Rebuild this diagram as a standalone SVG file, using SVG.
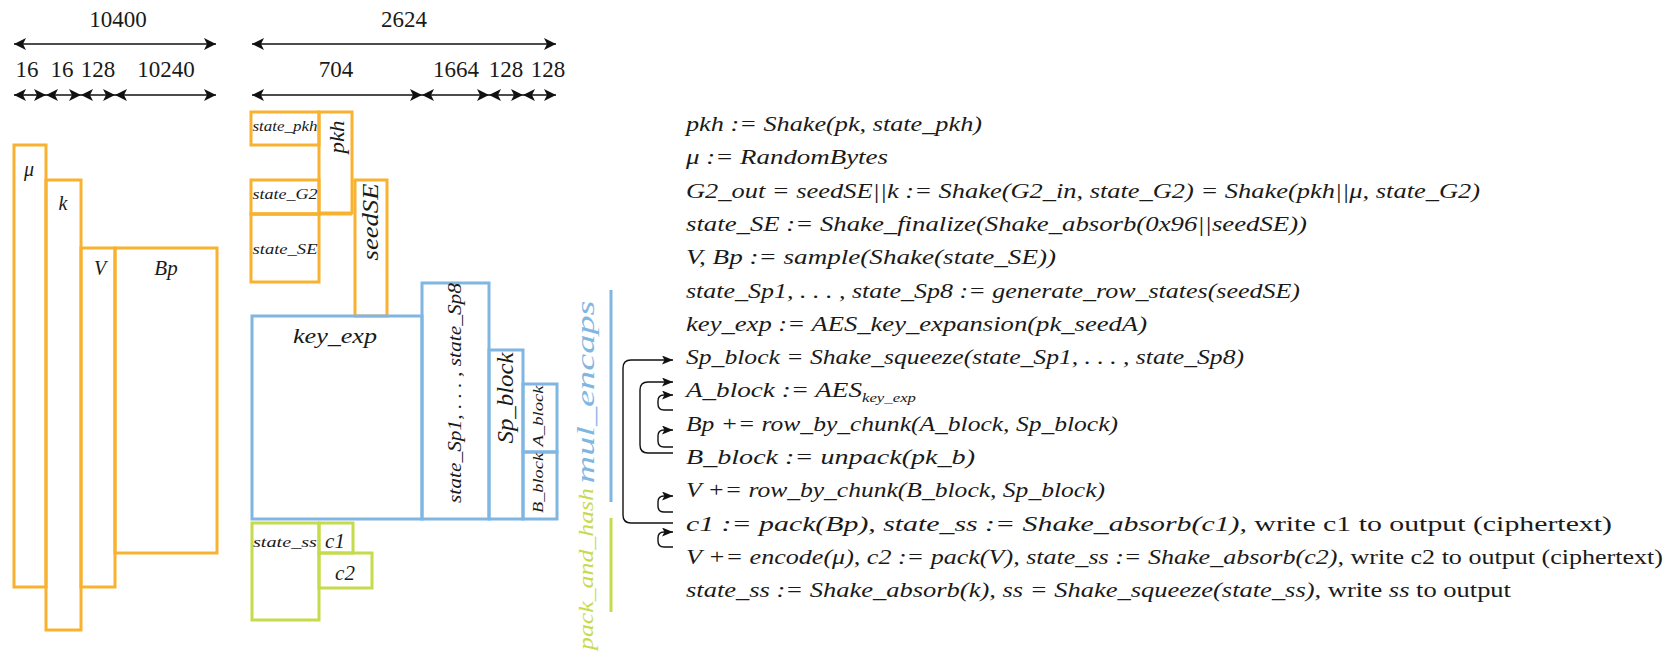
<svg xmlns="http://www.w3.org/2000/svg" width="1677" height="654" viewBox="0 0 1677 654">
<defs>
<style>
.o{fill:none;stroke:#F8B230;stroke-width:3}
.b{fill:none;stroke:#80B6E2;stroke-width:3}
.g{fill:none;stroke:#C6DB4B;stroke-width:3}
.t{font-family:"Liberation Serif","Times New Roman",serif;font-style:italic;fill:#1a1a1a}
.m{text-anchor:middle}
.n{font-family:"Liberation Serif","Times New Roman",serif;font-size:23px;fill:#1a1a1a;text-anchor:middle}
.up{font-style:normal}
.dim{stroke:#111;stroke-width:1.6;fill:none;marker-start:url(#dh);marker-end:url(#dh)}
.conn{stroke:#111;stroke-width:1.4;fill:none;marker-end:url(#ch)}
.line{font-size:21px}
</style>
<marker id="dh" viewBox="0 0 12 12" refX="12" refY="6" markerWidth="12" markerHeight="12" markerUnits="userSpaceOnUse" orient="auto-start-reverse"><path d="M0,0 L12,6 L0,12 L3,6 z" fill="#111"/></marker>
<marker id="ch" viewBox="0 0 11 9" refX="11" refY="4.5" markerWidth="11" markerHeight="9" markerUnits="userSpaceOnUse" orient="auto"><path d="M0,0 L11,4.5 L0,9 L2.5,4.5 z" fill="#111"/></marker>
</defs>
<rect width="1677" height="654" fill="#fff"/>

<g id="dimensions">
<text class="n" x="118" y="27">10400</text>
<path class="dim" d="M14,44 H216"/>
<text class="n" x="27" y="77">16</text>
<text class="n" x="62" y="77">16</text>
<text class="n" x="98" y="77">128</text>
<text class="n" x="166" y="77">10240</text>
<path class="dim" d="M14,95 H46"/>
<path class="dim" d="M46,95 H81"/>
<path class="dim" d="M81,95 H115"/>
<path class="dim" d="M115,95 H216"/>
<text class="n" x="404" y="27">2624</text>
<path class="dim" d="M252,44 H556"/>
<text class="n" x="336" y="77">704</text>
<text class="n" x="456" y="77">1664</text>
<text class="n" x="506" y="77">128</text>
<text class="n" x="548" y="77">128</text>
<path class="dim" d="M252,95 H422"/>
<path class="dim" d="M422,95 H489"/>
<path class="dim" d="M489,95 H523"/>
<path class="dim" d="M523,95 H556"/>
</g>

<g id="node-mu"><rect class="o" x="14" y="145" width="32" height="442"/><text class="t m" x="29" y="176" font-size="20">μ</text></g>
<g id="node-k"><rect class="o" x="46" y="180" width="35" height="450"/><text class="t m" x="63" y="210" font-size="20">k</text></g>
<g id="node-V"><rect class="o" x="81" y="248" width="34" height="339"/><text class="t m" x="100" y="275" font-size="20">V</text></g>
<g id="node-Bp"><rect class="o" x="115" y="248" width="102" height="305"/><text class="t m" x="166" y="275" font-size="21">Bp</text></g>

<g id="node-state_pkh"><rect class="o" x="251" y="112" width="68" height="33"/><text class="t m" x="285" y="131" font-size="15" textLength="65" lengthAdjust="spacingAndGlyphs">state_pkh</text></g>
<g id="node-pkh"><rect class="o" x="319" y="112" width="33" height="101"/><text class="t m" transform="translate(344,137) rotate(-90)" font-size="20" textLength="33" lengthAdjust="spacingAndGlyphs">pkh</text></g>
<g id="node-state_G2"><rect class="o" x="251" y="180" width="68" height="34"/><text class="t m" x="285" y="199" font-size="15" textLength="65" lengthAdjust="spacingAndGlyphs">state_G2</text></g>
<g id="node-state_SE"><rect class="o" x="251" y="214" width="68" height="68"/><text class="t m" x="285" y="254" font-size="15" textLength="65" lengthAdjust="spacingAndGlyphs">state_SE</text></g>
<g id="node-seedSE"><rect class="o" x="355" y="180" width="32" height="136"/><text class="t m" transform="translate(378,222) rotate(-90)" font-size="24" textLength="77" lengthAdjust="spacingAndGlyphs">seedSE</text></g>
<path class="o" d="M251,214 H352"/>

<g id="node-key_exp"><rect class="b" x="252" y="316" width="170" height="203"/><text class="t m" x="335" y="343" font-size="21" textLength="84" lengthAdjust="spacingAndGlyphs">key_exp</text></g>
<g id="node-state_Sp"><rect class="b" x="422" y="283" width="67" height="236"/><text class="t m" transform="translate(461,393) rotate(-90)" font-size="19" textLength="220" lengthAdjust="spacingAndGlyphs">state_Sp1, . . . , state_Sp8</text></g>
<g id="node-Sp_block"><rect class="b" x="489" y="350" width="34" height="169"/><text class="t m" transform="translate(513,398) rotate(-90)" font-size="23" textLength="91" lengthAdjust="spacingAndGlyphs">Sp_block</text></g>
<g id="node-A_block"><rect class="b" x="523" y="384" width="34" height="68"/><text class="t m" transform="translate(543,416) rotate(-90)" font-size="14" textLength="61" lengthAdjust="spacingAndGlyphs">A_block</text></g>
<g id="node-B_block"><rect class="b" x="523" y="452" width="34" height="67"/><text class="t m" transform="translate(543,483) rotate(-90)" font-size="14" textLength="60" lengthAdjust="spacingAndGlyphs">B_block</text></g>

<g id="node-state_ss"><rect class="g" x="252" y="523" width="67" height="97"/><text class="t m" x="285" y="547" font-size="15" textLength="64" lengthAdjust="spacingAndGlyphs">state_ss</text></g>
<g id="node-c1"><rect class="g" x="319" y="523" width="34" height="30"/><text class="t m" x="335" y="548" font-size="21">c1</text></g>
<g id="node-c2"><rect class="g" x="319" y="553" width="53" height="35"/><text class="t m" x="345" y="580" font-size="21">c2</text></g>

<g id="phase-mul_encaps">
<text class="t m" transform="translate(594,392) rotate(-90)" font-size="26" style="fill:#80B6E2" textLength="183" lengthAdjust="spacingAndGlyphs">mul_encaps</text>
<path d="M611,290 V502" stroke="#80B6E2" stroke-width="3"/>
</g>
<g id="phase-pack_and_hash">
<text class="t m" transform="translate(593,569) rotate(-90)" font-size="22" style="fill:#C6DB4B" textLength="162" lengthAdjust="spacingAndGlyphs">pack_and_hash</text>
<path d="M611,518 V612" stroke="#C6DB4B" stroke-width="3"/>
</g>

<g id="steps" class="t line">
<text x="686" y="131" textLength="296" lengthAdjust="spacingAndGlyphs">pkh := Shake(pk, state_pkh)</text>
<text x="686" y="164.3" textLength="202" lengthAdjust="spacingAndGlyphs">μ := RandomBytes</text>
<text x="686" y="197.6" textLength="794" lengthAdjust="spacingAndGlyphs">G2_out = seedSE||k := Shake(G2_in, state_G2) = Shake(pkh||μ, state_G2)</text>
<text x="686" y="230.9" textLength="621" lengthAdjust="spacingAndGlyphs">state_SE := Shake_finalize(Shake_absorb(0x96||seedSE))</text>
<text x="686" y="264.2" textLength="370" lengthAdjust="spacingAndGlyphs">V, Bp := sample(Shake(state_SE))</text>
<text x="686" y="297.5" textLength="614" lengthAdjust="spacingAndGlyphs">state_Sp1, . . . , state_Sp8 := generate_row_states(seedSE)</text>
<text x="686" y="330.8" textLength="461" lengthAdjust="spacingAndGlyphs">key_exp := AES_key_expansion(pk_seedA)</text>
<text x="686" y="364.1" textLength="558" lengthAdjust="spacingAndGlyphs">Sp_block = Shake_squeeze(state_Sp1, . . . , state_Sp8)</text>
<text x="686" y="397.4" textLength="230" lengthAdjust="spacingAndGlyphs">A_block := AES<tspan font-size="13" dy="5">key_exp</tspan></text>
<text x="686" y="430.7" textLength="432" lengthAdjust="spacingAndGlyphs">Bp += row_by_chunk(A_block, Sp_block)</text>
<text x="686" y="464" textLength="289" lengthAdjust="spacingAndGlyphs">B_block := unpack(pk_b)</text>
<text x="686" y="497.3" textLength="419" lengthAdjust="spacingAndGlyphs">V += row_by_chunk(B_block, Sp_block)</text>
<text x="686" y="530.6" textLength="926" lengthAdjust="spacingAndGlyphs">c1 := pack(Bp), state_ss := Shake_absorb(c1), <tspan class="up">write c1 to output (ciphertext)</tspan></text>
<text x="686" y="563.9" textLength="977" lengthAdjust="spacingAndGlyphs">V += encode(μ), c2 := pack(V), state_ss := Shake_absorb(c2), <tspan class="up">write c2 to output (ciphertext)</tspan></text>
<text x="686" y="597.2" textLength="825" lengthAdjust="spacingAndGlyphs">state_ss := Shake_absorb(k), ss = Shake_squeeze(state_ss), <tspan class="up">write </tspan>ss<tspan class="up"> to output</tspan></text>
</g>

<g id="connectors">
<path class="conn" d="M673,523 H631 Q623,523 623,515 V368 Q623,360 631,360 H673"/>
<path class="conn" d="M673,453 H648 Q640,453 640,445 V390 Q640,382 648,382 H673"/>
<path class="conn" d="M673,410 H664 Q658,410 658,404 V401 Q658,395 664,395 H673"/>
<path class="conn" d="M673,447 H664 Q658,447 658,441 V436 Q658,430 664,430 H673"/>
<path class="conn" d="M673,512 H664 Q658,512 658,506 V502 Q658,496 664,496 H673"/>
<path class="conn" d="M673,547 H664 Q658,547 658,541 V538 Q658,532 664,532 H673"/>
</g>
</svg>
